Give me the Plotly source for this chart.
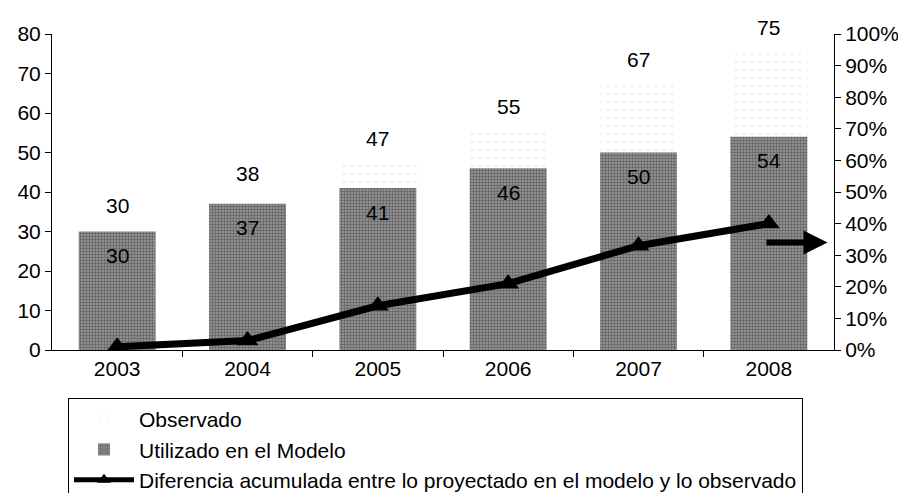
import plotly.graph_objects as go

years = ["2003", "2004", "2005", "2006", "2007", "2008"]
observado = [30, 38, 47, 55, 67, 75]
modelo = [30, 37, 41, 46, 50, 54]
diferencia = [1, 3, 14, 21, 33, 40]  # percent
y_ticks = [0, 10, 20, 30, 40, 50, 60, 70, 80]
y2_ticks = [0, 10, 20, 30, 40, 50, 60, 70, 80, 90, 100]

FONT = "Liberation Sans, Arial, sans-serif"
FS = 21
idx = list(range(len(years)))

# page body has an 8px default margin: the figure is sized to the visible area
W, H = 898, 485

fig = go.Figure()
fig.add_trace(go.Bar(
    x=idx, y=observado, name="Observado",
    marker=dict(color="white", line=dict(width=0),
                pattern=dict(shape=".", fgcolor="#d4d4d4", bgcolor="white", size=8, solidity=0.08)),
    width=0.59,
))
fig.add_trace(go.Bar(
    x=idx, y=modelo, name="Utilizado en el Modelo",
    marker=dict(color="#9a9a9a", line=dict(width=0),
                pattern=dict(shape=".", fgcolor="#262626", bgcolor="#9c9c9c", size=3, solidity=0.5)),
    width=0.59,
))
fig.add_trace(go.Scatter(
    x=idx, y=diferencia, name="Diferencia acumulada entre lo proyectado en el modelo y lo observado",
    yaxis="y2", mode="lines+markers",
    line=dict(color="black", width=7),
    marker=dict(symbol="triangle-up", size=19, color="black"),
))

annotations = []
for i, v in zip(idx, observado):
    annotations.append(dict(x=i, y=v, xref="x", yref="y", text=str(v), showarrow=False,
                            yanchor="middle", yshift=26, font=dict(size=FS, color="black", family=FONT)))
for i, v in zip(idx, modelo):
    annotations.append(dict(x=i, y=v, xref="x", yref="y", text=str(v), showarrow=False,
                            yanchor="middle", yshift=-24, font=dict(size=FS, color="black", family=FONT)))
# arrow pointing to the secondary axis
annotations.append(dict(x=5.45, y=34, xref="x", yref="y2", ax=4.97, ay=34, axref="x", ayref="y2",
                        text="", showarrow=True, arrowhead=2, arrowsize=0.8, arrowwidth=6,
                        arrowcolor="black"))

fig.update_layout(
    width=W, height=H,
    margin=dict(l=44, r=72, t=26, b=143, autoexpand=False),
    paper_bgcolor="white", plot_bgcolor="white",
    barmode="overlay",
    font=dict(family=FONT, size=FS, color="black"),
    xaxis=dict(range=[-0.5, 5.5], tickvals=idx, ticktext=years, showline=True,
               linecolor="black", linewidth=1, ticks="", showgrid=False, zeroline=False,
               tickfont=dict(size=FS)),
    xaxis2=dict(range=[-0.5, 5.5], overlaying="x", tickvals=[i + 0.5 for i in idx[:-1]],
                ticktext=["" for _ in idx[:-1]], ticks="outside", ticklen=6, tickcolor="black",
                showgrid=False, zeroline=False, side="bottom", showline=False),
    yaxis=dict(range=[0, 80], tickvals=y_ticks, showline=True, linecolor="black", linewidth=1,
               ticks="outside", ticklen=6, tickcolor="black", showgrid=False, zeroline=False,
               tickfont=dict(size=FS)),
    yaxis2=dict(range=[0, 100], tickvals=y2_ticks, ticktext=[f"{t}%" for t in y2_ticks],
                overlaying="y", side="right", showline=True, linecolor="black", linewidth=1,
                ticks="outside", ticklen=6, tickcolor="black", showgrid=False, zeroline=False,
                tickfont=dict(size=FS)),
    legend=dict(x=60 / W, y=1 - 390 / H, xref="container", yref="container",
                xanchor="left", yanchor="top",
                bordercolor="black", borderwidth=1, bgcolor="white", itemwidth=60,
                font=dict(size=FS, family=FONT), tracegroupgap=0, itemsizing="constant"),
    annotations=annotations,
    showlegend=True,
)
# invisible trace to activate the boundary-tick axis
fig.add_trace(go.Scatter(x=[0], y=[0], xaxis="x2", mode="markers", marker=dict(opacity=0),
                         showlegend=False, hoverinfo="skip"))

fig.write_html("out.html")
